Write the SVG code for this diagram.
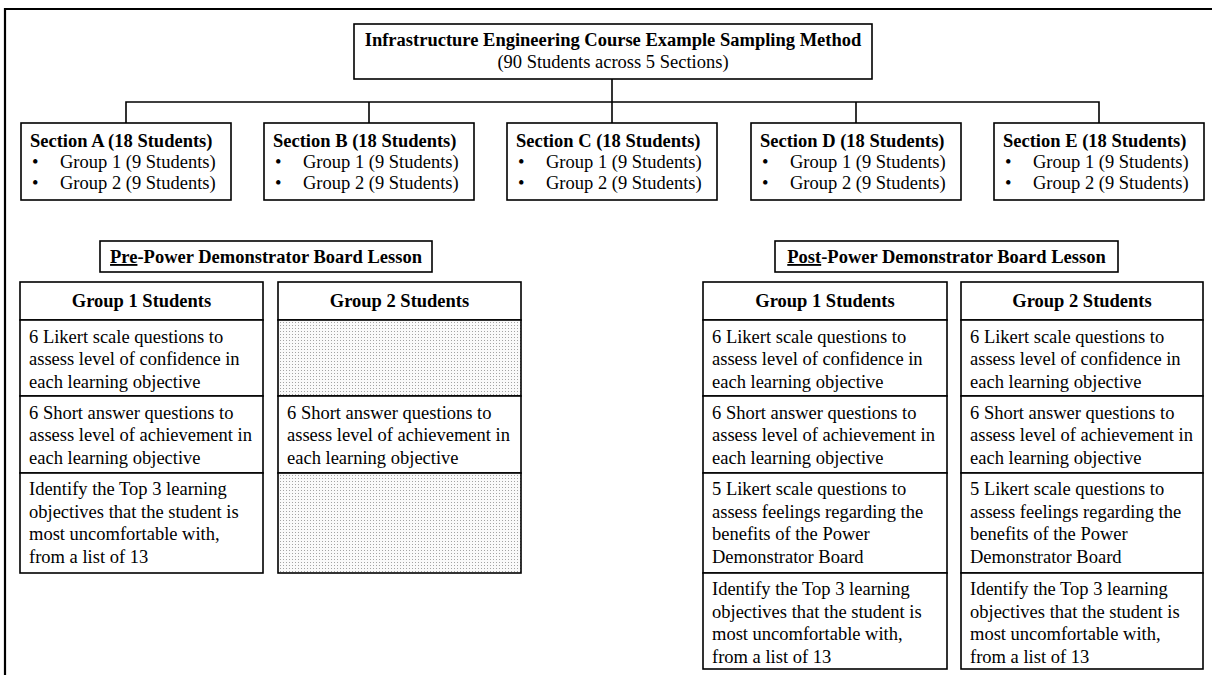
<svg xmlns="http://www.w3.org/2000/svg" width="1212" height="675" viewBox="0 0 1212 675">
<style>
text{font-family:"Liberation Serif","Times New Roman",serif;font-size:18.5px;fill:#000}
.b{font-weight:bold}
.c{text-anchor:middle}
.box{fill:#fff;stroke:#000;stroke-width:1.6}
.frame{fill:none;stroke:#000;stroke-width:2.2}
.con{fill:none;stroke:#000;stroke-width:1.6}
.dot{fill:url(#dots);stroke:#000;stroke-width:1.6}
.u{text-decoration:underline}
</style>
<defs>
<pattern id="dots" width="3" height="3" patternUnits="userSpaceOnUse">
<rect width="3" height="3" fill="#fafafa"/>
<rect x="1" y="1" width="1" height="1" fill="#a4a4a4"/>
</pattern>
</defs>
<rect width="1212" height="675" fill="#fff"/>
<path class="frame" d="M1213,9 H5 V676"/>

<g id="connectors">
<path class="con" d="M612,79 V102"/>
<path class="con" d="M126,123 V102 H1099 V123"/>
<path class="con" d="M369,102 V123"/>
<path class="con" d="M612,102 V123"/>
<path class="con" d="M856,102 V123"/>
</g>

<g id="title">
<rect class="box" x="354" y="24" width="518" height="55"/>
<text class="b c" x="613" y="46">Infrastructure Engineering Course Example Sampling Method</text>
<text class="c" x="613" y="68">(90 Students across 5 Sections)</text>
</g>

<g id="sectionA">
<rect class="box" x="21" y="123" width="210" height="77"/>
<text class="b" x="30" y="147">Section A (18 Students)</text>
<text x="32" y="168">•</text><text x="60" y="168">Group 1 (9 Students)</text>
<text x="32" y="189">•</text><text x="60" y="189">Group 2 (9 Students)</text>
</g>
<g id="sectionB">
<rect class="box" x="264" y="123" width="210" height="77"/>
<text class="b" x="273" y="147">Section B (18 Students)</text>
<text x="275" y="168">•</text><text x="303" y="168">Group 1 (9 Students)</text>
<text x="275" y="189">•</text><text x="303" y="189">Group 2 (9 Students)</text>
</g>
<g id="sectionC">
<rect class="box" x="507" y="123" width="210" height="77"/>
<text class="b" x="516" y="147">Section C (18 Students)</text>
<text x="518" y="168">•</text><text x="546" y="168">Group 1 (9 Students)</text>
<text x="518" y="189">•</text><text x="546" y="189">Group 2 (9 Students)</text>
</g>
<g id="sectionD">
<rect class="box" x="751" y="123" width="210" height="77"/>
<text class="b" x="760" y="147">Section D (18 Students)</text>
<text x="762" y="168">•</text><text x="790" y="168">Group 1 (9 Students)</text>
<text x="762" y="189">•</text><text x="790" y="189">Group 2 (9 Students)</text>
</g>
<g id="sectionE">
<rect class="box" x="994" y="123" width="210" height="77"/>
<text class="b" x="1003" y="147">Section E (18 Students)</text>
<text x="1005" y="168">•</text><text x="1033" y="168">Group 1 (9 Students)</text>
<text x="1005" y="189">•</text><text x="1033" y="189">Group 2 (9 Students)</text>
</g>

<g id="preLabel">
<rect class="box" x="100" y="241" width="332" height="31"/>
<text class="b c" x="266" y="263"><tspan class="u">Pre</tspan>-Power Demonstrator Board Lesson</text>
</g>

<g id="preGroup1">
<rect class="box" x="20" y="282" width="243" height="38"/>
<text class="b c" x="141.5" y="307">Group 1 Students</text>
<rect class="box" x="20" y="320" width="243" height="76"/>
<text x="29" y="342.5">6 Likert scale questions to</text>
<text x="29" y="365">assess level of confidence in</text>
<text x="29" y="387.5">each learning objective</text>
<rect class="box" x="20" y="396" width="243" height="77"/>
<text x="29" y="418.5">6 Short answer questions to</text>
<text x="29" y="441">assess level of achievement in</text>
<text x="29" y="463.5">each learning objective</text>
<rect class="box" x="20" y="473" width="243" height="100"/>
<text x="29" y="495">Identify the Top 3 learning</text>
<text x="29" y="517.5">objectives that the student is</text>
<text x="29" y="540">most uncomfortable with,</text>
<text x="29" y="562.5">from a list of 13</text>
</g>

<g id="preGroup2">
<rect class="box" x="278" y="282" width="243" height="38"/>
<text class="b c" x="399.5" y="307">Group 2 Students</text>
<rect class="dot" x="278" y="320" width="243" height="76"/>
<rect class="box" x="278" y="396" width="243" height="77"/>
<text x="287" y="418.5">6 Short answer questions to</text>
<text x="287" y="441">assess level of achievement in</text>
<text x="287" y="463.5">each learning objective</text>
<rect class="dot" x="278" y="473" width="243" height="100"/>
</g>

<g id="postLabel">
<rect class="box" x="775" y="241" width="343" height="31"/>
<text class="b c" x="946.5" y="263"><tspan class="u">Post</tspan>-Power Demonstrator Board Lesson</text>
</g>

<g id="postGroup1">
<rect class="box" x="703" y="282" width="244" height="38"/>
<text class="b c" x="825" y="307">Group 1 Students</text>
<rect class="box" x="703" y="320" width="244" height="76"/>
<text x="712" y="342.5">6 Likert scale questions to</text>
<text x="712" y="365">assess level of confidence in</text>
<text x="712" y="387.5">each learning objective</text>
<rect class="box" x="703" y="396" width="244" height="77"/>
<text x="712" y="418.5">6 Short answer questions to</text>
<text x="712" y="441">assess level of achievement in</text>
<text x="712" y="463.5">each learning objective</text>
<rect class="box" x="703" y="473" width="244" height="100"/>
<text x="712" y="495">5 Likert scale questions to</text>
<text x="712" y="517.5">assess feelings regarding the</text>
<text x="712" y="540">benefits of the Power</text>
<text x="712" y="562.5">Demonstrator Board</text>
<rect class="box" x="703" y="573" width="244" height="96"/>
<text x="712" y="595">Identify the Top 3 learning</text>
<text x="712" y="617.5">objectives that the student is</text>
<text x="712" y="640">most uncomfortable with,</text>
<text x="712" y="662.5">from a list of 13</text>
</g>

<g id="postGroup2">
<rect class="box" x="961" y="282" width="242" height="38"/>
<text class="b c" x="1082" y="307">Group 2 Students</text>
<rect class="box" x="961" y="320" width="242" height="76"/>
<text x="970" y="342.5">6 Likert scale questions to</text>
<text x="970" y="365">assess level of confidence in</text>
<text x="970" y="387.5">each learning objective</text>
<rect class="box" x="961" y="396" width="242" height="77"/>
<text x="970" y="418.5">6 Short answer questions to</text>
<text x="970" y="441">assess level of achievement in</text>
<text x="970" y="463.5">each learning objective</text>
<rect class="box" x="961" y="473" width="242" height="100"/>
<text x="970" y="495">5 Likert scale questions to</text>
<text x="970" y="517.5">assess feelings regarding the</text>
<text x="970" y="540">benefits of the Power</text>
<text x="970" y="562.5">Demonstrator Board</text>
<rect class="box" x="961" y="573" width="242" height="96"/>
<text x="970" y="595">Identify the Top 3 learning</text>
<text x="970" y="617.5">objectives that the student is</text>
<text x="970" y="640">most uncomfortable with,</text>
<text x="970" y="662.5">from a list of 13</text>
</g>
</svg>
